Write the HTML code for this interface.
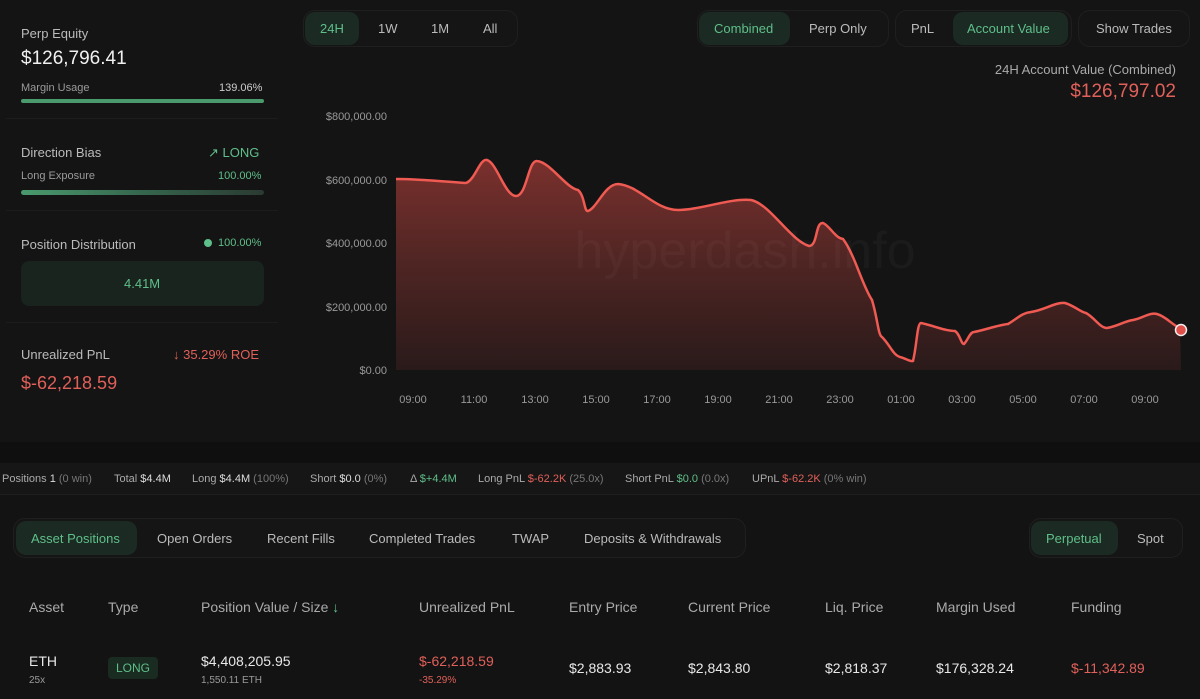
<!DOCTYPE html><html><head><meta charset="utf-8"><style>
*{margin:0;padding:0;box-sizing:border-box}
body{width:1200px;height:699px;background:#131313;font-family:"Liberation Sans",sans-serif;color:#e8e8e8;position:relative;overflow:hidden}
.a{position:absolute;white-space:nowrap}
.g{color:#5fbf8a}.r{color:#e0605a}.m{color:#9a9a9a}.d{color:#777}
.pill{position:absolute;border:1px solid #1f1f1f;border-radius:12px;background:#151515}
.on{position:absolute;background:#1b2a22;border-radius:10px}
.st{position:absolute;top:473px;font-size:11px;color:#aaa;white-space:nowrap}
.st b{font-weight:normal;color:#ddd}
</style></head><body>
<div class="a" style="left:0;top:0;width:1200px;height:442px;background:#141414"></div>
<div class="a" style="left:0;top:442px;width:1200px;height:21px;background:#0f0f0f"></div>
<div class="a" style="left:0;top:463px;width:1200px;height:32px;background:#161616;border-bottom:1px solid #1e1e1e"></div>
<!-- left panel -->
<div class="a" style="left:21px;top:26px;font-size:13px;color:#bbb">Perp Equity</div>
<div class="a" style="left:21px;top:48px;font-size:19px;color:#f0f0f0">$126,796.41</div>
<div class="a m" style="left:21px;top:82px;font-size:11px">Margin Usage</div>
<div class="a" style="left:219px;top:82px;font-size:11px;color:#ccc">139.06%</div>
<div class="a" style="left:21px;top:99px;width:243px;height:4px;border-radius:2px;background:#4a9a6e"></div>
<div class="a" style="left:6px;top:118px;width:272px;height:1px;background:#1c1c1c"></div>
<div class="a" style="left:21px;top:145px;font-size:13px;color:#bbb">Direction Bias</div>
<div class="a g" style="left:208px;top:145px;font-size:13px">↗ LONG</div>
<div class="a m" style="left:21px;top:170px;font-size:11px">Long Exposure</div>
<div class="a g" style="left:218px;top:170px;font-size:11px">100.00%</div>
<div class="a" style="left:21px;top:190px;width:243px;height:5px;border-radius:3px;background:linear-gradient(90deg,#4a9a6e,#35664d 50%,#2a3a32)"></div>
<div class="a" style="left:6px;top:210px;width:272px;height:1px;background:#1c1c1c"></div>
<div class="a" style="left:21px;top:237px;font-size:13px;color:#bbb">Position Distribution</div>
<div class="a" style="left:204px;top:239px;width:8px;height:8px;border-radius:4px;background:#5fbf8a"></div>
<div class="a g" style="left:218px;top:237px;font-size:11px">100.00%</div>
<div class="a" style="left:21px;top:261px;width:243px;height:45px;border-radius:8px;background:#19241e"></div>
<div class="a g" style="left:124px;top:276px;font-size:13px">4.41M</div>
<div class="a" style="left:6px;top:322px;width:272px;height:1px;background:#1c1c1c"></div>
<div class="a" style="left:21px;top:347px;font-size:13px;color:#bbb">Unrealized PnL</div>
<div class="a r" style="left:173px;top:347px;font-size:13px">↓ 35.29% ROE</div>
<div class="a r" style="left:21px;top:373px;font-size:18px">$-62,218.59</div>
<!-- top controls -->
<div class="pill" style="left:303px;top:10px;width:215px;height:37px"></div>
<div class="on" style="left:305px;top:12px;width:54px;height:33px"></div>
<div class="a g" style="left:320px;top:21px;font-size:13px">24H</div>
<div class="a" style="left:378px;top:21px;font-size:13px;color:#bbb">1W</div>
<div class="a" style="left:431px;top:21px;font-size:13px;color:#bbb">1M</div>
<div class="a" style="left:483px;top:21px;font-size:13px;color:#bbb">All</div>
<div class="pill" style="left:697px;top:10px;width:192px;height:37px"></div>
<div class="on" style="left:699px;top:12px;width:91px;height:33px"></div>
<div class="a g" style="left:714px;top:21px;font-size:13px">Combined</div>
<div class="a" style="left:809px;top:21px;font-size:13px;color:#bbb">Perp Only</div>
<div class="pill" style="left:895px;top:10px;width:177px;height:37px"></div>
<div class="on" style="left:953px;top:12px;width:115px;height:33px"></div>
<div class="a" style="left:911px;top:21px;font-size:13px;color:#bbb">PnL</div>
<div class="a g" style="left:967px;top:21px;font-size:13px">Account Value</div>
<div class="pill" style="left:1078px;top:10px;width:112px;height:37px"></div>
<div class="a" style="left:1096px;top:21px;font-size:13px;color:#bbb">Show Trades</div>
<div class="a" style="right:24px;top:62px;font-size:13px;color:#aaa">24H Account Value (Combined)</div>
<div class="a r" style="right:24px;top:81px;font-size:19px">$126,797.02</div>
<!-- chart -->
<svg class="a" style="left:0;top:0" width="1200" height="442">
<defs><linearGradient id="f" x1="0" x2="0" gradientUnits="userSpaceOnUse" y1="160" y2="370"><stop offset="0" stop-color="#7a302d"/><stop offset="0.5" stop-color="#4e2523"/><stop offset="1" stop-color="#2a1a1a"/></linearGradient></defs>
<g font-size="11" fill="#999" font-family="Liberation Sans" text-anchor="end">
<text x="387" y="120">$800,000.00</text><text x="387" y="184">$600,000.00</text><text x="387" y="247">$400,000.00</text><text x="387" y="311">$200,000.00</text><text x="387" y="374">$0.00</text></g>
<g font-size="11" fill="#999" font-family="Liberation Sans" text-anchor="middle">
<text x="413" y="403">09:00</text><text x="474" y="403">11:00</text><text x="535" y="403">13:00</text><text x="596" y="403">15:00</text><text x="657" y="403">17:00</text><text x="718" y="403">19:00</text><text x="779" y="403">21:00</text><text x="840" y="403">23:00</text><text x="901" y="403">01:00</text><text x="962" y="403">03:00</text><text x="1023" y="403">05:00</text><text x="1084" y="403">07:00</text><text x="1145" y="403">09:00</text></g>
<path id="p" d="M396,179 C420,179 450,182 466,183 C475,180 480,158 487,160 C497,163 505,196 516,196 C527,196 528,160 537,161 C550,162 566,188 578,190 C585,196 584,212 588,211 C597,208 605,184 618,184 C640,186 655,210 678,210 C700,210 730,198 751,200 C770,204 790,240 809,246 C818,246 815,222 823,223 C830,226 835,238 843,239 C855,255 862,285 872,300 C878,320 878,335 882,337 C890,345 893,355 900,357 C905,358 910,362 913,361 C917,345 917,323 921,323 C935,326 945,331 955,331 C960,334 961,344 964,344 C968,340 970,332 974,332 C985,330 998,325 1008,324 C1018,318 1022,313 1031,312 C1045,310 1055,302 1065,303 C1075,306 1080,312 1086,313 C1095,318 1100,328 1107,328 C1118,326 1125,321 1133,320 C1143,318 1150,312 1157,314 C1167,317 1172,325 1180,328" fill="none"/>
<path d="M396,179 C420,179 450,182 466,183 C475,180 480,158 487,160 C497,163 505,196 516,196 C527,196 528,160 537,161 C550,162 566,188 578,190 C585,196 584,212 588,211 C597,208 605,184 618,184 C640,186 655,210 678,210 C700,210 730,198 751,200 C770,204 790,240 809,246 C818,246 815,222 823,223 C830,226 835,238 843,239 C855,255 862,285 872,300 C878,320 878,335 882,337 C890,345 893,355 900,357 C905,358 910,362 913,361 C917,345 917,323 921,323 C935,326 945,331 955,331 C960,334 961,344 964,344 C968,340 970,332 974,332 C985,330 998,325 1008,324 C1018,318 1022,313 1031,312 C1045,310 1055,302 1065,303 C1075,306 1080,312 1086,313 C1095,318 1100,328 1107,328 C1118,326 1125,321 1133,320 C1143,318 1150,312 1157,314 C1167,317 1172,325 1180,328 L1181,370 L396,370 Z" fill="url(#f)"/>
<use href="#p" stroke="#ef5a52" stroke-width="2.5"/>
<text x="745" y="268" font-size="52" fill="#ffffff" fill-opacity=".03" text-anchor="middle" font-family="Liberation Sans">hyperdash.info</text>
<circle cx="1181" cy="330" r="5.5" fill="#e0504a" stroke="#eee" stroke-width="1.5"/>
</svg>
<!-- stats bar -->
<div class="st" style="left:2px">Positions <b>1</b> <span class="d">(0 win)</span></div>
<div class="st" style="left:114px">Total <b>$4.4M</b></div>
<div class="st" style="left:192px">Long <b>$4.4M</b> <span class="d">(100%)</span></div>
<div class="st" style="left:310px">Short <b>$0.0</b> <span class="d">(0%)</span></div>
<div class="st" style="left:410px">Δ <span class="g">$+4.4M</span></div>
<div class="st" style="left:478px">Long PnL <span class="r">$-62.2K</span> <span class="d">(25.0x)</span></div>
<div class="st" style="left:625px">Short PnL <span class="g">$0.0</span> <span class="d">(0.0x)</span></div>
<div class="st" style="left:752px">UPnL <span class="r">$-62.2K</span> <span class="d">(0% win)</span></div>
<!-- tabs -->
<div class="pill" style="left:13px;top:518px;width:733px;height:40px"></div>
<div class="on" style="left:16px;top:521px;width:121px;height:34px"></div>
<div class="a g" style="left:31px;top:531px;font-size:13px">Asset Positions</div>
<div class="a" style="left:157px;top:531px;font-size:13px;color:#bbb">Open Orders</div>
<div class="a" style="left:267px;top:531px;font-size:13px;color:#bbb">Recent Fills</div>
<div class="a" style="left:369px;top:531px;font-size:13px;color:#bbb">Completed Trades</div>
<div class="a" style="left:512px;top:531px;font-size:13px;color:#bbb">TWAP</div>
<div class="a" style="left:584px;top:531px;font-size:13px;color:#bbb">Deposits &amp; Withdrawals</div>
<div class="pill" style="left:1029px;top:518px;width:154px;height:40px"></div>
<div class="on" style="left:1031px;top:521px;width:87px;height:34px"></div>
<div class="a g" style="left:1046px;top:531px;font-size:13px">Perpetual</div>
<div class="a" style="left:1137px;top:531px;font-size:13px;color:#bbb">Spot</div>
<!-- table -->
<div class="a" style="left:0;top:599px;font-size:14px;color:#aaa;width:1200px">
<span class="a" style="left:29px">Asset</span><span class="a" style="left:108px">Type</span><span class="a" style="left:201px">Position Value / Size <span class="g">↓</span></span><span class="a" style="left:419px">Unrealized PnL</span><span class="a" style="left:569px">Entry Price</span><span class="a" style="left:688px">Current Price</span><span class="a" style="left:825px">Liq. Price</span><span class="a" style="left:936px">Margin Used</span><span class="a" style="left:1071px">Funding</span></div>
<div class="a" style="left:29px;top:653px;font-size:14px">ETH</div>
<div class="a m" style="left:29px;top:675px;font-size:10px">25x</div>
<div class="a g" style="left:108px;top:657px;width:50px;height:22px;border-radius:4px;background:#1a2b21;font-size:12px;text-align:center;line-height:22px">LONG</div>
<div class="a" style="left:201px;top:653px;font-size:14px">$4,408,205.95</div>
<div class="a m" style="left:201px;top:675px;font-size:10px">1,550.11 ETH</div>
<div class="a r" style="left:419px;top:653px;font-size:14px">$-62,218.59</div>
<div class="a r" style="left:419px;top:675px;font-size:10px">-35.29%</div>
<div class="a" style="left:569px;top:660px;font-size:14px">$2,883.93</div>
<div class="a" style="left:688px;top:660px;font-size:14px">$2,843.80</div>
<div class="a" style="left:825px;top:660px;font-size:14px">$2,818.37</div>
<div class="a" style="left:936px;top:660px;font-size:14px">$176,328.24</div>
<div class="a r" style="left:1071px;top:660px;font-size:14px">$-11,342.89</div>
</body></html>
